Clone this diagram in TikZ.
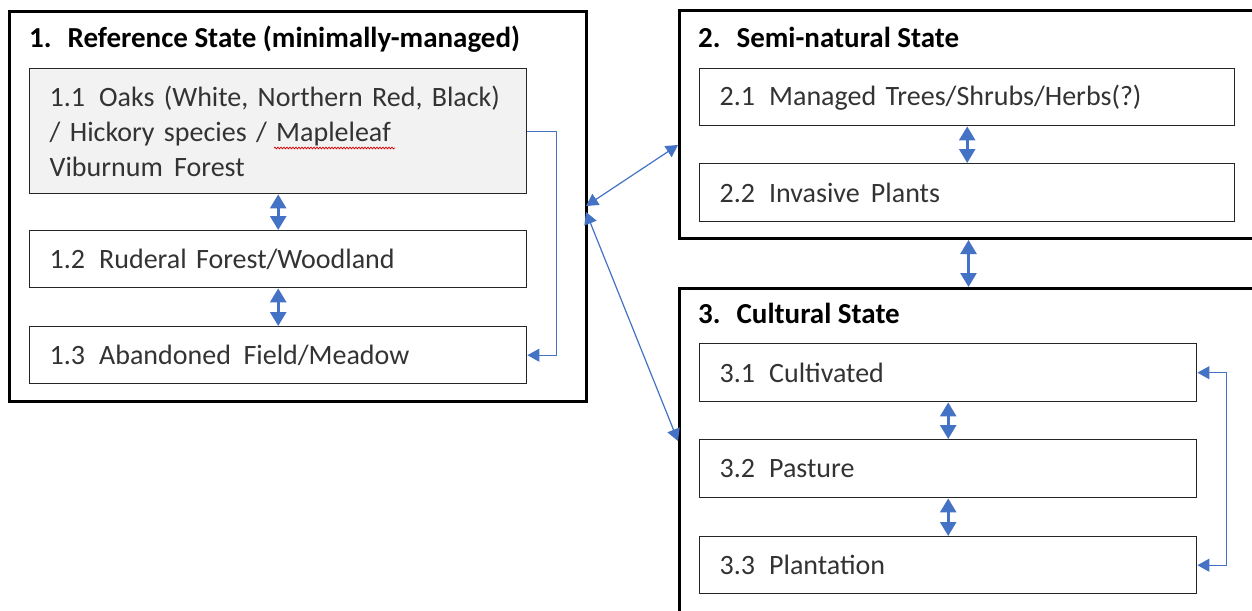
\documentclass[tikz,border=0pt]{standalone}
\usepackage{fontspec}
\setmainfont{Carlito}
\usetikzlibrary{arrows.meta,decorations.pathmorphing,calc}
\definecolor{arrblue}{HTML}{4472C4}
\definecolor{boxgray}{HTML}{F2F2F2}
\definecolor{txtgray}{HTML}{333333}
\begin{document}
\begin{tikzpicture}[x=1pt,y=-1pt,
  outerbox/.style={draw=black, line width=3pt, anchor=north west, inner sep=0pt},
  innerbox/.style={draw=black!85, line width=1.4pt, anchor=north west, inner xsep=20pt, inner ysep=0pt,
     align=left, text=txtgray, font=\fontsize{28}{35}\selectfont},
  titletext/.style={anchor=base west, inner sep=0pt, font=\fontsize{29}{30}\selectfont\bfseries, text=black},
  arr/.style={draw=arrblue, line width=2.6pt, {Triangle[length=14pt,width=16pt]}-{Triangle[length=14pt,width=16pt]}},
  thinarr/.style={draw=arrblue, line width=1.2pt},
]
\clip (0,0) rectangle (1252,610);
\fill[white] (0,0) rectangle (1252,610);

% outer state boxes
\node[outerbox, minimum width=577pt, minimum height=390pt] (S1) at (8,10) {};
\node[outerbox, minimum width=578pt, minimum height=228pt] (S2) at (678,9) {};
\node[outerbox, minimum width=578pt, minimum height=330pt] (S3) at (678,287) {};

% titles
\node[titletext] (T1) at (29,48) {1.\hspace{0.55em}Reference State (minimally-managed)};
\node[titletext] (T2) at (698,48) {2.\hspace{0.55em}Semi-natural State};
\node[titletext] (T3) at (698,323) {3.\hspace{0.55em}Cultural State};

% state 1 boxes
\node[innerbox, fill=boxgray, text width=457pt, minimum height=125pt] (B11) at (29,68)
  {1.1\hspace{0.5em}Oaks (White, Northern Red, Black)\\/ Hickory species / Mapleleaf\\Viburnum\hspace{0.4em}Forest};
\node[innerbox, text width=457pt, minimum height=57pt] (B12) at (29,230) {1.2\hspace{0.5em}Ruderal Forest/Woodland};
\node[innerbox, text width=457pt, minimum height=57pt] (B13) at (29,326) {1.3\hspace{0.5em}Abandoned\hspace{0.45em}Field/Meadow};

% state 2 boxes
\node[innerbox, text width=495pt, minimum height=57pt] (B21) at (699,68) {2.1\hspace{0.5em}Managed Trees/Shrubs/Herbs(?)};
\node[innerbox, text width=495pt, minimum height=58pt] (B22) at (699,163) {2.2\hspace{0.5em}Invasive\hspace{0.4em}Plants};

% state 3 boxes
\node[innerbox, text width=457pt, minimum height=58pt] (B31) at (699,343) {3.1\hspace{0.5em}Cultivated};
\node[innerbox, text width=457pt, minimum height=58pt] (B32) at (699,439) {3.2\hspace{0.5em}Pasture};
\node[innerbox, text width=457pt, minimum height=57pt] (B33) at (699,536) {3.3\hspace{0.5em}Plantation};

% spell-check squiggle under "Mapleleaf"
\draw[red!85!black, line width=0.7pt, decorate, decoration={snake, amplitude=0.9pt, segment length=3pt}]
  (274,148) -- (395,148);

% vertical double arrows
\draw[arr] (B11.south) -- (B12.north);
\draw[arr] (B12.south) -- (B13.north);
\draw[arr] (B21.south) -- (B22.north);
\draw[arr] (S2.south) -- (S3.north);
\draw[arr] (B31.south) -- (B32.north);
\draw[arr] (B32.south) -- (B33.north);

% elbow connectors
\draw[thinarr, -{Triangle[length=12pt,width=13pt]}] (B11.east) -- ++(29,0) |- (B13.east);
\draw[thinarr, {Triangle[length=12pt,width=13pt]}-{Triangle[length=12pt,width=13pt]}] (B31.east) -- ++(29,0) |- (B33.east);

% diagonal connectors between states
\coordinate (A1) at (586,206);
\coordinate (A2) at (586,212);
\coordinate (E2) at (678,145);
\coordinate (E3) at (678,441);
\draw[thinarr, {Triangle[length=12pt,width=13pt]}-{Triangle[length=12pt,width=13pt]}] (A1) -- (E2);
\draw[thinarr, {Triangle[length=12pt,width=13pt]}-{Triangle[length=12pt,width=13pt]}] (A2) -- (E3);
\end{tikzpicture}
\end{document}
